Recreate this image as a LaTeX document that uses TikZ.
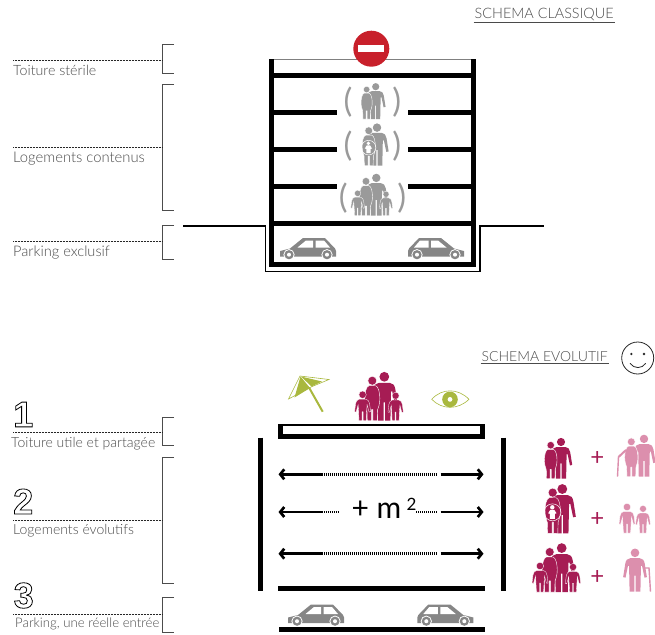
\documentclass[tikz,border=0pt]{standalone}
\usepackage{fontspec}
\setmainfont{Lato Light}
\newfontfamily\latonormal{Lato}
\newfontfamily\chiffrefont{Liberation Sans}
\usepackage{xcolor}
\usetikzlibrary{arrows.meta, calc}

\definecolor{figgris}{HTML}{9A9A9A}
\definecolor{voiture}{HTML}{868686}
\definecolor{bordeaux}{HTML}{A61C54}
\definecolor{rose}{HTML}{DC8FAD}
\definecolor{olive}{HTML}{A9B83E}
\definecolor{sens}{HTML}{C8202B}
\definecolor{texte}{HTML}{4A4A4A}

\newcommand{\chiffre}[1]{\special{pdf:code 1 Tr 0.8 w}#1\special{pdf:code 0 Tr}}

\tikzset{
    every pic/.style={transform shape},
    legende/.style={font=\fontsize{14.2}{14}\selectfont, text=texte, anchor=base west, inner sep=0pt},
    titre/.style={font=\fontsize{14.4}{14}\selectfont, text=texte, anchor=west, inner sep=1pt},
    numero/.style={font=\chiffrefont\bfseries\fontsize{36}{36}\selectfont, anchor=west, inner sep=0pt},
    parenth/.style={font=\latonormal\fontsize{33}{33}\selectfont, text=figgris, inner sep=0pt},
    plus/.style={font=\latonormal\fontsize{24}{24}\selectfont, text=bordeaux, inner sep=0pt},
    crochet/.style={line width=0.9pt, draw=black!70},
    pointille/.style={line width=0.6pt, draw=black!85, dash pattern=on 0.7pt off 0.8pt},
    mur/.style={line width=5pt},
    sol/.style={line width=1.6pt},
    fleche/.style={line width=2.7pt, arrows={-Straight Barb[length=4pt,width=10pt]}},
    tirets/.style={line width=2.7pt, dash pattern=on 1pt off 1pt},
    manfig/.pic={
        \fill (0,-36) circle (4);
        \fill (-4.5,-31) -- (4.5,-31) .. controls (7,-31) and (8.5,-29) .. (9,-26) -- (11,-13.5) -- (8.8,-13) -- (6.5,-24) -- (5.5,-24) -- (5,0) -- (0.6,0) -- (0.6,-15) -- (-0.6,-15) -- (-0.6,0) -- (-5,0) -- (-5.5,-24) -- (-6.5,-24) -- (-8.8,-13) -- (-11,-13.5) -- (-9,-26) .. controls (-8.5,-29) and (-7,-31) .. (-4.5,-31) -- cycle;
    },
    womanfig/.pic={
        \fill[draw=white, line width=0.4pt] (0,-36) circle (4);
        \fill[draw=white, line width=0.4pt] (-3,-31.5) -- (3,-31.5) .. controls (5.5,-31) and (6.8,-25) .. (6.8,-20) .. controls (6.8,-15) and (5.5,-12) .. (4.8,-10) -- (4.5,0) -- (0.6,0) -- (0.6,-10) -- (-0.6,-10) -- (-0.6,0) -- (-4.5,0) -- (-4.8,-10) .. controls (-5.5,-12) and (-6.8,-15) .. (-6.8,-20) .. controls (-6.8,-25) and (-5.5,-31) .. (-3,-31.5) -- cycle;
    },
    kidfig/.pic={
        \fill[draw=white, line width=0.3pt] (0,-26) circle (3.7);
        \fill[draw=white, line width=0.3pt] (-3.5,-21.5) -- (3.5,-21.5) .. controls (5.5,-21.5) and (6.5,-19) .. (7,-17) -- (8,-9) -- (6.5,-8.7) -- (4.5,-16) -- (4,-9) -- (3.6,0) -- (0.5,0) -- (0.5,-9) -- (-0.5,-9) -- (-0.5,0) -- (-3.6,0) -- (-4,-9) -- (-4.5,-16) -- (-6.5,-8.7) -- (-8,-9) -- (-7,-17) .. controls (-6.5,-19) and (-5.5,-21.5) .. (-3.5,-21.5) -- cycle;
    },
    couplefig/.pic={
        \pic[scale=1.02] at (0,0) {manfig};
        \pic[scale=0.93] at (-10.3,0) {womanfig};
    },
    bebefig/.pic={
        \pic[scale=1.23] at (0,0) {manfig};
        \pic[scale=1.13] at (-9.6,0) {womanfig};
        \draw[white, line width=0.5pt] (-9.8,-21) circle (8.5);
        \fill[white] (-10,-26) circle (2.2);
        \fill[white] (-12,-23.5) -- (-8,-23.5) -- (-5.8,-20) -- (-7.5,-19.5) -- (-7.5,-14.5) -- (-12.5,-14.5) -- (-12.5,-19.5) -- (-14.2,-20) -- cycle;
    },
    famillefig/.pic={
        \pic[scale=1.22] at (0,0) {manfig};
        \pic[scale=1.11] at (-12,0) {womanfig};
        \pic at (-21.7,0) {kidfig};
        \pic[scale=0.96] at (11.3,0) {kidfig};
    },
    carfig/.pic={
        \fill (0,18.5) -- (0,13) -- (10,10.5) -- (23,0) -- (45,0) -- (55,10.5) -- (56,13) -- (56,18.5) -- cycle;
        \fill[white] (17.5,9.5) -- (26,2.5) -- (33,2.5) -- (33,9.5) -- cycle;
        \fill[white] (35.5,2.5) -- (44,2.5) -- (50,9.5) -- (35.5,9.5) -- cycle;
        \foreach \xr in {9,47} {
            \fill[white] (\xr,16.7) circle (5.6);
            \fill (\xr,16.7) circle (4.6);
            \fill[white] (\xr,16.7) circle (2);
        }
    },
}

\begin{document}
\begin{tikzpicture}[x=1pt, y=-1pt]
    \useasboundingbox (0,0) rectangle (655,634);

    % Titres
    \node[titre] (classique) at (473.5,14.5) {SCHEMA CLASSIQUE};
    \draw[line width=0.6pt, texte] (classique.south west) -- (classique.south east);
    \node[titre, font=\fontsize{14}{14}\selectfont] (evolutif) at (480.5,357) {SCHEMA EVOLUTIF};
    \draw[line width=0.6pt, texte] (evolutif.south west) -- (evolutif.south east);

    % Crochets du haut
    \draw[crochet] (174,44) -| (162.5,73) -- (174,73);
    \draw[crochet] (174,84) -| (162.5,210) -- (174,210);
    \draw[crochet] (174,225) -| (162.5,259) -- (174,259);

    % Legendes du haut
    \coordinate (cA) at (162.5,60);
    \coordinate (cB) at (162.5,147);
    \coordinate (cC) at (162.5,241);
    \node[legende] (toitA) at (13,75) {Toiture stérile};
    \node[legende, font=\fontsize{14.8}{14}\selectfont] (logA) at (13,162.3) {Logements contenus};
    \node[legende, font=\fontsize{14.6}{14}\selectfont] (parkA) at (13,256) {Parking exclusif};
    \draw[pointille] (toitA.west |- cA) -- (cA);
    \draw[pointille] (logA.west |- cB) -- (cB);
    \draw[pointille] (parkA.west |- cC) -- (cC);

    % Immeuble classique
    \draw[mur] (271.5,59) -- (271.5,267);
    \draw[mur] (473.5,59) -- (473.5,267);
    \draw[line width=0.8pt, black!50] (274,59) -- (471,59);
    \foreach \ya in {75.5,223.5,264.5} {
        \draw[mur] (274,\ya) -- (471,\ya);
    }
    \foreach \ya in {112.5,149.5,186.5} {
        \draw[mur] (274,\ya) -- (337,\ya);
        \draw[mur] (408,\ya) -- (471,\ya);
    }

    % Sol
    \draw[sol] (183,226) -- (265.5,226) -- (265.5,271.5) -- (480,271.5) -- (480,226) -- (544,226);

    % Sens interdit
    \fill[sens] (371.3,48.7) circle (18);
    \fill[white] (358.3,45) rectangle (384,52);

    % Familles grises
    \begin{scope}[color=figgris]
        \pic[scale=0.88] at (375.7,119) {couplefig};
        \pic[scale=0.86] at (377,165.7) {bebefig};
        \pic[scale=0.86] at (376.3,215.7) {famillefig};
    \end{scope}
    \node[parenth] (pA) at (348,102.5) {(};
    \node[parenth] (pB) at (396.7,102.5) {)};
    \node[parenth] (pC) at (348,146.5) {(};
    \node[parenth] (pD) at (396.7,146.5) {)};
    \node[parenth] (pE) at (343.3,198) {(};
    \node[parenth] (pF) at (401.7,198) {)};

    % Voitures
    \pic[color=voiture] at (280,238) {carfig};
    \pic[color=voiture, xscale=-1] at (464,238) {carfig};
    \pic[color=voiture] at (288,604.5) {carfig};
    \pic[color=voiture, xscale=-1] at (473.3,604.5) {carfig};

    % Sourire
    \draw[line width=0.8pt, black!85] (637.7,358) circle (16);
    \fill[black!85] (631.3,354) circle (1.3);
    \fill[black!85] (644,354) circle (1.3);
    \draw[line width=0.8pt, black!85] (630,363.3) .. controls (634,369) and (642,369) .. (645.7,363.3);

    % Crochets du bas
    \draw[crochet] (174,417) -| (162.5,445) -- (174,445);
    \draw[crochet] (174,457) -| (162.5,583) -- (174,583);
    \draw[crochet] (174,597) -| (162.5,632) -- (174,632);

    % Legendes du bas
    \coordinate (cD) at (162.5,432.3);
    \coordinate (cE) at (162.5,520);
    \coordinate (cF) at (162.5,614);
    \node[legende, font=\fontsize{14}{14}\selectfont] (toitB) at (11,447.3) {Toiture utile et partagée};
    \node[legende, font=\fontsize{14}{14}\selectfont] (logB) at (13,534.3) {Logements évolutifs};
    \node[legende, font=\fontsize{13.2}{14}\selectfont] (parkB) at (15,627.3) {Parking, une réelle entrée};
    \draw[pointille] (13,432.3) -- (cD);
    \draw[pointille] (13,520) -- (cE);
    \draw[pointille] (13,614) -- (cF);
    \node[numero] (un) at (13,414.5) {\chiffre{1}};
    \node[numero] (deux) at (13,501.5) {\chiffre{2}};
    \node[numero] (trois) at (13.5,595.5) {\chiffre{3}};

    % Immeuble evolutif
    \draw[mur] (260.3,437.7) -- (260.3,590.7);
    \draw[mur] (503.3,437.7) -- (503.3,590.7);
    \draw[line width=1.6pt] (278.3,424.8) -- (485,424.8);
    \draw[mur] (280.8,424) -- (280.8,438.7);
    \draw[mur] (482.5,424) -- (482.5,438.7);
    \draw[mur] (278.3,436.2) -- (485,436.2);
    \draw[mur] (278.3,588.5) -- (485,588.5);
    \draw[mur] (279,629.7) -- (485,629.7);

    % Fleches
    \foreach \ya in {474.3,553.7} {
        \draw[fleche] (321.7,\ya) -- (278.5,\ya);
        \draw[tirets] (321.7,\ya) -- (436.7,\ya);
        \draw[fleche] (440.7,\ya) -- (483.5,\ya);
    }
    \draw[fleche] (321.7,512) -- (278.5,512);
    \draw[tirets] (321.7,512) -- (338.3,512);
    \draw[tirets] (416,512) -- (436.7,512);
    \draw[fleche] (440.7,512) -- (483.5,512);
    \node[font=\latonormal\fontsize{30}{30}\selectfont, inner sep=0pt] (surface) at (376.5,510) {+ m};
    \node[font=\latonormal\fontsize{17}{17}\selectfont, inner sep=0pt] (carre) at (411.5,504.5) {2};

    % Parasol
    \draw[olive, line width=0.6pt] (300,376) -- (329,379.5) -- (311,387) -- (288.5,399) -- cycle;
    \fill[olive] (300.5,376.5) -- (294.5,397.5) -- (310,388) -- cycle;
    \fill[olive] (301,376.5) -- (311.5,386.5) -- (322,381.5) -- cycle;
    \draw[olive, line width=2pt] (309,387.5) -- (322.7,411.7);

    % Famille sur le toit
    \pic[color=bordeaux] at (384.3,420.7) {famillefig};

    % Oeil
    \draw[olive, line width=0.6pt] (431.7,399.3) .. controls (442,388) and (458,388) .. (469,399.3) .. controls (458,410) and (442,410) .. cycle;
    \fill[olive] (450,399.4) circle (7.8);
    \fill[white] (450,399.4) circle (2.4);

    % Familles a droite
    \pic[color=bordeaux] at (561,478.7) {couplefig};
    \pic[color=bordeaux] at (562.3,533.3) {bebefig};
    \pic[color=bordeaux] at (561.7,592) {famillefig};
    \node[plus] (plusA) at (597.3,458) {+};
    \node[plus] (plusB) at (597.3,519.7) {+};
    \node[plus] (plusC) at (597.3,577.4) {+};

    % Personnes en rose
    \begin{scope}[color=rose]
        \pic[scale=1.05] at (644,476.7) {manfig};
        \pic[scale=0.97] at (631.3,476.7) {womanfig};
        \draw[line width=2pt] (626,450) -- (618.5,457);
        \draw[line width=1.4pt] (618.5,456.5) -- (617.5,476.7);
        \pic at (627,533) {kidfig};
        \pic[scale=0.93] at (643,533) {kidfig};
        \pic[scale=1.08] at (635,591.7) {manfig};
        \draw[line width=1.4pt] (644,568) -- (649,568) -- (650.5,591.7);
    \end{scope}
\end{tikzpicture}
\end{document}
